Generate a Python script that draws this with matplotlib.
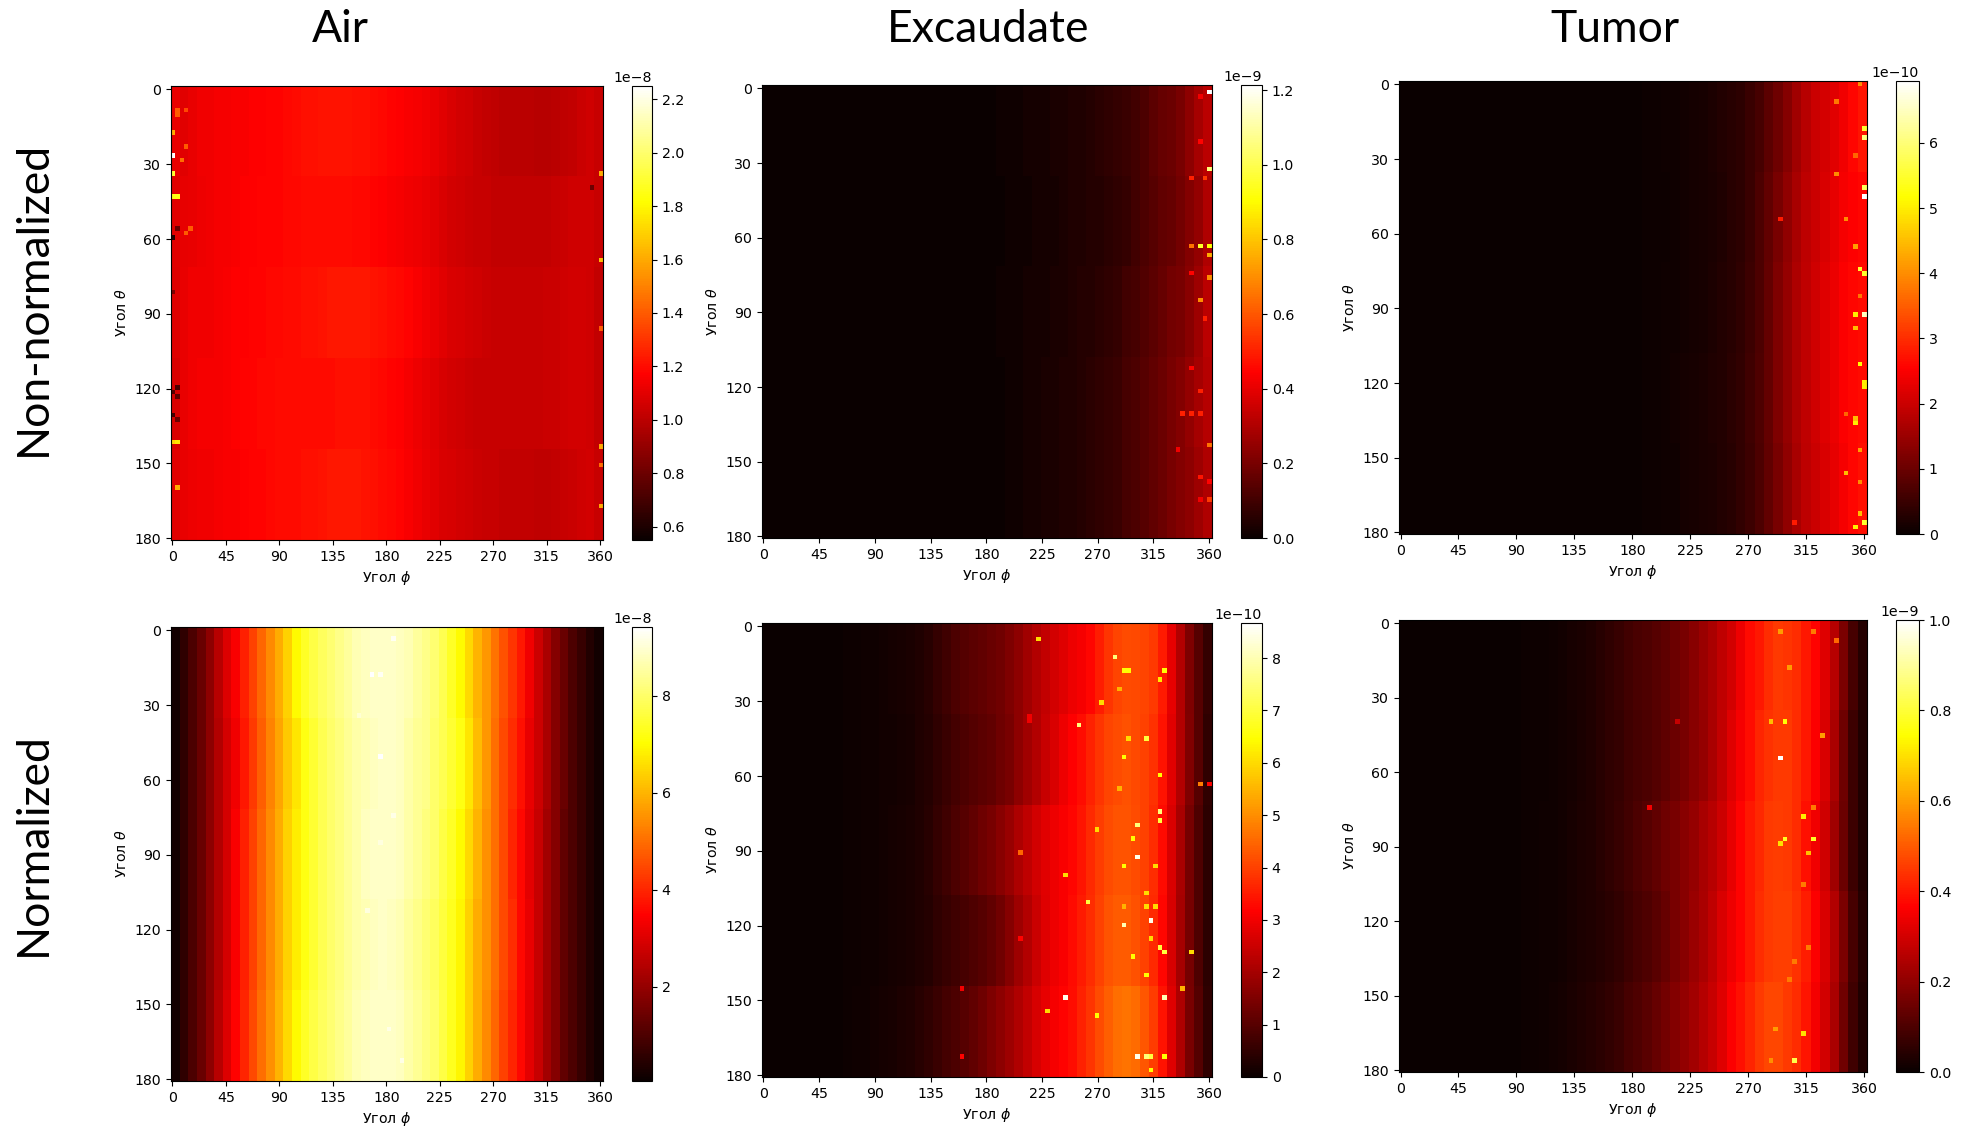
import numpy as np
import matplotlib
matplotlib.use("Agg")
import matplotlib.pyplot as plt

# block estimates: 5 theta bands (36 deg), 50 phi bins (7.2 deg)
# single bright cells are listed apart as (theta, phi, value)

air_raw = [
    [1.12, 1.10, 1.12, 1.14, 1.14, 1.15, 1.15, 1.16, 1.16, 1.17,
     1.17, 1.18, 1.18, 1.19, 1.20, 1.21, 1.21, 1.22, 1.22, 1.22,
     1.22, 1.21, 1.21, 1.20, 1.19, 1.18, 1.17, 1.16, 1.15, 1.14,
     1.12, 1.10, 1.08, 1.06, 1.05, 1.03, 1.02, 1.01, 1.00, 1.00,
     1.00, 1.00, 0.99, 0.99, 1.00, 1.01, 1.02, 1.04, 1.05, 1.03],
    [1.10, 1.11, 1.12, 1.13, 1.14, 1.15, 1.15, 1.16, 1.17, 1.17,
     1.18, 1.18, 1.18, 1.19, 1.19, 1.20, 1.20, 1.20, 1.20, 1.20,
     1.20, 1.19, 1.19, 1.18, 1.17, 1.16, 1.15, 1.14, 1.13, 1.12,
     1.10, 1.08, 1.06, 1.05, 1.04, 1.03, 1.03, 1.02, 1.02, 1.02,
     1.02, 1.02, 1.02, 1.02, 1.03, 1.04, 1.05, 1.05, 1.05, 1.03],
    [1.09, 1.12, 1.14, 1.14, 1.14, 1.15, 1.16, 1.17, 1.17, 1.18,
     1.18, 1.19, 1.19, 1.20, 1.20, 1.21, 1.21, 1.22, 1.23, 1.23,
     1.23, 1.23, 1.23, 1.22, 1.21, 1.20, 1.19, 1.18, 1.16, 1.14,
     1.12, 1.10, 1.08, 1.07, 1.06, 1.05, 1.04, 1.03, 1.03, 1.03,
     1.03, 1.03, 1.03, 1.04, 1.04, 1.05, 1.06, 1.06, 1.05, 1.02],
    [1.08, 1.12, 1.14, 1.15, 1.15, 1.15, 1.16, 1.17, 1.18, 1.18,
     1.19, 1.19, 1.20, 1.20, 1.20, 1.20, 1.20, 1.20, 1.20, 1.21,
     1.21, 1.21, 1.21, 1.20, 1.19, 1.18, 1.17, 1.15, 1.13, 1.11,
     1.09, 1.07, 1.06, 1.05, 1.04, 1.03, 1.03, 1.03, 1.03, 1.03,
     1.03, 1.03, 1.03, 1.04, 1.04, 1.05, 1.06, 1.06, 1.05, 1.02],
    [1.10, 1.12, 1.13, 1.14, 1.14, 1.15, 1.16, 1.16, 1.17, 1.18,
     1.18, 1.19, 1.20, 1.20, 1.20, 1.21, 1.21, 1.22, 1.23, 1.23,
     1.23, 1.23, 1.22, 1.21, 1.20, 1.19, 1.18, 1.16, 1.14, 1.12,
     1.10, 1.08, 1.07, 1.06, 1.05, 1.04, 1.03, 1.03, 1.02, 1.02,
     1.02, 1.02, 1.01, 1.01, 1.02, 1.03, 1.04, 1.05, 1.06, 1.03],
]
air_raw_hot = [(28, 0, 2.25), (35, 0, 1.9), (44.5, 0, 1.85), (44.5, 3.6, 1.85), (19, 0, 1.6),
               (142, 0, 1.7), (142, 3.6, 1.75), (159, 3.6, 1.6), (35, 360, 1.6), (70, 360, 1.65),
               (143, 360, 1.6), (166, 360, 1.6), (61, 0, 0.62), (130, 0, 0.7), (120, 3.6, 0.72),
               (12, 3.6, 1.4), (58, 11, 1.4), (96, 360, 1.4), (150, 360, 1.45), (40, 350, 0.8),
               (9.6, 5.5, 1.4), (9.6, 11, 1.35), (30, 9.7, 1.45), (24, 11, 1.4), (132, 4, 0.8),
               (121, 2, 0.75), (123, 5.5, 0.78), (56, 4, 0.8), (82, 0.6, 0.85), (57, 17, 1.4)]

exc_raw = [
    [0.00, 0.00, 0.00, 0.00, 0.00, 0.00, 0.00, 0.00, 0.00, 0.00,
     0.00, 0.00, 0.00, 0.00, 0.00, 0.00, 0.00, 0.00, 0.00, 0.00,
     0.00, 0.00, 0.00, 0.00, 0.00, 0.00, 0.01, 0.01, 0.01, 0.02,
     0.02, 0.02, 0.03, 0.03, 0.04, 0.04, 0.05, 0.06, 0.07, 0.08,
     0.09, 0.10, 0.12, 0.15, 0.17, 0.18, 0.20, 0.24, 0.28, 0.32],
    [0.00, 0.00, 0.00, 0.00, 0.00, 0.00, 0.00, 0.00, 0.00, 0.00,
     0.00, 0.00, 0.00, 0.00, 0.00, 0.00, 0.00, 0.00, 0.00, 0.00,
     0.00, 0.00, 0.00, 0.00, 0.00, 0.00, 0.00, 0.01, 0.01, 0.01,
     0.02, 0.02, 0.02, 0.03, 0.04, 0.04, 0.05, 0.05, 0.06, 0.07,
     0.08, 0.10, 0.12, 0.14, 0.16, 0.17, 0.19, 0.22, 0.25, 0.30],
    [0.00, 0.00, 0.00, 0.00, 0.00, 0.00, 0.00, 0.00, 0.00, 0.00,
     0.00, 0.00, 0.00, 0.00, 0.00, 0.00, 0.00, 0.00, 0.00, 0.00,
     0.00, 0.00, 0.00, 0.00, 0.00, 0.00, 0.01, 0.01, 0.01, 0.02,
     0.02, 0.02, 0.03, 0.03, 0.04, 0.05, 0.05, 0.06, 0.07, 0.08,
     0.10, 0.11, 0.13, 0.15, 0.17, 0.19, 0.20, 0.23, 0.27, 0.32],
    [0.00, 0.00, 0.00, 0.00, 0.00, 0.00, 0.00, 0.00, 0.00, 0.00,
     0.00, 0.00, 0.00, 0.00, 0.00, 0.00, 0.00, 0.00, 0.00, 0.00,
     0.00, 0.00, 0.00, 0.00, 0.00, 0.00, 0.00, 0.01, 0.01, 0.02,
     0.02, 0.03, 0.03, 0.04, 0.04, 0.05, 0.06, 0.07, 0.08, 0.09,
     0.11, 0.12, 0.14, 0.16, 0.18, 0.20, 0.22, 0.25, 0.28, 0.31],
    [0.00, 0.00, 0.00, 0.00, 0.00, 0.00, 0.00, 0.00, 0.00, 0.00,
     0.00, 0.00, 0.00, 0.00, 0.00, 0.00, 0.00, 0.00, 0.00, 0.00,
     0.00, 0.00, 0.00, 0.00, 0.00, 0.00, 0.00, 0.01, 0.01, 0.02,
     0.02, 0.03, 0.03, 0.04, 0.04, 0.05, 0.06, 0.07, 0.08, 0.09,
     0.11, 0.12, 0.14, 0.16, 0.18, 0.20, 0.22, 0.24, 0.27, 0.30],
]
exc_raw_hot = [(2, 358, 1.21), (33, 358, 1.05), (63, 350, 0.95), (63, 358, 0.9), (63, 345, 0.65),
               (67, 358, 0.75), (76, 358, 0.7), (85, 352, 0.7), (131, 338, 0.5), (131, 350, 0.5),
               (131, 345, 0.5), (143, 358, 0.65), (37, 342, 0.5), (37, 355, 0.55), (22, 350, 0.45),
               (122, 350, 0.5), (74, 342, 0.45), (158, 358, 0.45), (165, 358, 0.55), (93, 355, 0.5),
               (5, 350, 0.42), (145, 332, 0.42), (155, 352, 0.48), (112, 342, 0.45), (165, 352, 0.42)]

tum_raw = [
    [0.00, 0.00, 0.00, 0.00, 0.00, 0.00, 0.00, 0.00, 0.00, 0.00,
     0.00, 0.00, 0.00, 0.00, 0.00, 0.00, 0.00, 0.00, 0.00, 0.00,
     0.00, 0.00, 0.00, 0.00, 0.00, 0.02, 0.03, 0.04, 0.06, 0.08,
     0.10, 0.13, 0.16, 0.20, 0.25, 0.31, 0.38, 0.50, 0.65, 0.85,
     1.05, 1.30, 1.55, 1.80, 2.00, 2.10, 2.25, 2.40, 2.60, 2.75],
    [0.00, 0.00, 0.00, 0.00, 0.00, 0.00, 0.00, 0.00, 0.00, 0.00,
     0.00, 0.00, 0.00, 0.00, 0.00, 0.00, 0.00, 0.00, 0.00, 0.00,
     0.00, 0.00, 0.00, 0.00, 0.00, 0.01, 0.03, 0.04, 0.05, 0.07,
     0.10, 0.12, 0.15, 0.19, 0.24, 0.30, 0.38, 0.50, 0.68, 0.90,
     1.15, 1.40, 1.65, 1.85, 2.00, 2.15, 2.30, 2.45, 2.55, 2.60],
    [0.00, 0.00, 0.00, 0.00, 0.00, 0.00, 0.00, 0.00, 0.00, 0.00,
     0.00, 0.00, 0.00, 0.00, 0.00, 0.00, 0.00, 0.00, 0.00, 0.00,
     0.00, 0.00, 0.00, 0.00, 0.01, 0.02, 0.03, 0.04, 0.06, 0.08,
     0.10, 0.13, 0.16, 0.20, 0.25, 0.31, 0.40, 0.52, 0.70, 0.95,
     1.20, 1.45, 1.70, 1.90, 2.05, 2.20, 2.35, 2.50, 2.60, 2.65],
    [0.00, 0.00, 0.00, 0.00, 0.00, 0.00, 0.00, 0.00, 0.00, 0.00,
     0.00, 0.00, 0.00, 0.00, 0.00, 0.00, 0.00, 0.00, 0.00, 0.00,
     0.00, 0.00, 0.00, 0.00, 0.01, 0.02, 0.03, 0.05, 0.07, 0.09,
     0.12, 0.15, 0.18, 0.22, 0.27, 0.33, 0.42, 0.55, 0.72, 0.95,
     1.20, 1.45, 1.70, 1.90, 2.05, 2.20, 2.35, 2.50, 2.60, 2.65],
    [0.00, 0.00, 0.00, 0.00, 0.00, 0.00, 0.00, 0.00, 0.00, 0.00,
     0.00, 0.00, 0.00, 0.00, 0.00, 0.00, 0.00, 0.00, 0.00, 0.00,
     0.00, 0.00, 0.00, 0.00, 0.01, 0.02, 0.03, 0.05, 0.06, 0.08,
     0.11, 0.14, 0.17, 0.21, 0.26, 0.32, 0.41, 0.52, 0.70, 0.92,
     1.15, 1.40, 1.65, 1.85, 2.00, 2.15, 2.30, 2.45, 2.60, 2.70],
]
tum_raw_hot = [(23, 357, 6), (19, 358, 5.5), (43, 358, 5.8), (45, 358, 6.95), (74, 355, 5.5),
               (76, 358, 5.5), (92, 358, 6.5), (93.5, 352, 5), (98, 352, 4.5), (112, 355, 5.2),
               (119, 358, 5), (121, 358, 5), (134, 352, 4.5), (135.5, 352, 5), (155.5, 344, 4.5),
               (159, 355, 4), (176, 358, 5.5), (177.5, 352, 5), (172, 355, 4.5), (37, 338, 4),
               (55.5, 344, 4), (54, 294, 2.8), (8, 337, 3.8), (0, 355, 4), (176, 304, 2.8),
               (65, 352, 4.2), (147, 355, 4.2), (30, 352, 3.6), (85, 355, 3.8), (132, 344, 3.6)]

air_norm = [
    [0.2, 0.6, 1.0, 1.4, 1.9, 2.5, 3.0, 3.4, 3.9, 4.4,
     4.9, 5.4, 5.9, 6.4, 7.0, 7.4, 7.7, 7.9, 8.1, 8.3,
     8.5, 8.7, 8.8, 8.9, 8.9, 8.9, 8.8, 8.7, 8.5, 8.3,
     8.1, 7.8, 7.4, 7.0, 6.5, 6.0, 5.6, 5.1, 4.6, 4.2,
     3.8, 3.3, 2.8, 2.3, 1.8, 1.4, 1.0, 0.7, 0.4, 0.2],
    [0.2, 0.6, 1.0, 1.4, 1.9, 2.4, 2.9, 3.3, 3.8, 4.3,
     4.8, 5.3, 5.8, 6.3, 6.7, 7.2, 7.5, 7.8, 8.0, 8.2,
     8.4, 8.6, 8.7, 8.8, 8.9, 8.9, 8.8, 8.6, 8.4, 8.3,
     8.0, 7.8, 7.5, 7.2, 6.7, 6.1, 5.6, 5.0, 4.5, 4.1,
     3.7, 3.2, 2.8, 2.3, 1.8, 1.4, 1.0, 0.7, 0.4, 0.2],
    [0.2, 0.6, 1.0, 1.4, 1.9, 2.4, 2.9, 3.4, 3.9, 4.4,
     4.9, 5.4, 5.9, 6.4, 6.8, 7.2, 7.5, 7.8, 8.0, 8.2,
     8.4, 8.6, 8.8, 8.9, 8.9, 8.9, 8.8, 8.6, 8.4, 8.2,
     8.0, 7.7, 7.4, 7.0, 6.5, 6.0, 5.5, 5.0, 4.5, 4.0,
     3.6, 3.1, 2.7, 2.2, 1.8, 1.3, 1.0, 0.7, 0.4, 0.2],
    [0.2, 0.6, 1.0, 1.4, 1.9, 2.4, 2.9, 3.4, 3.9, 4.4,
     4.9, 5.4, 5.9, 6.4, 6.8, 7.2, 7.5, 7.8, 8.0, 8.2,
     8.4, 8.6, 8.7, 8.8, 8.9, 8.8, 8.7, 8.5, 8.3, 8.1,
     7.9, 7.6, 7.3, 6.9, 6.4, 5.9, 5.5, 5.0, 4.5, 4.1,
     3.6, 3.2, 2.7, 2.2, 1.8, 1.3, 1.0, 0.7, 0.4, 0.2],
    [0.2, 0.6, 1.0, 1.4, 1.9, 2.5, 3.0, 3.5, 4.0, 4.5,
     5.0, 5.5, 6.0, 6.5, 7.0, 7.4, 7.7, 7.9, 8.1, 8.3,
     8.5, 8.7, 8.8, 8.9, 8.9, 8.9, 8.8, 8.6, 8.4, 8.2,
     8.0, 7.7, 7.3, 6.9, 6.4, 5.9, 5.4, 4.9, 4.4, 4.0,
     3.6, 3.1, 2.7, 2.2, 1.8, 1.3, 1.0, 0.7, 0.4, 0.2],
]
air_norm_hot = [(19, 169, 9.4), (19, 173, 9.3), (52, 176, 9.4), (75, 184, 9.2), (85, 176, 9.1),
                (113, 162, 9.1), (5, 187, 9.3), (160, 180, 9.2), (172, 191, 9.2), (35, 155, 9.0)]

exc_norm = [
    [0.00, 0.00, 0.00, 0.00, 0.00, 0.00, 0.01, 0.02, 0.03, 0.04,
     0.05, 0.07, 0.09, 0.11, 0.14, 0.17, 0.22, 0.30, 0.40, 0.55,
     0.70, 0.85, 0.95, 1.05, 1.15, 1.25, 1.35, 1.50, 1.70, 1.95,
     2.20, 2.40, 2.60, 2.75, 2.95, 3.05, 3.25, 3.55, 3.85, 4.05,
     4.15, 4.10, 4.05, 3.90, 3.50, 2.85, 2.20, 1.50, 1.00, 0.55],
    [0.00, 0.00, 0.00, 0.00, 0.00, 0.00, 0.01, 0.02, 0.03, 0.04,
     0.05, 0.07, 0.09, 0.11, 0.13, 0.16, 0.20, 0.28, 0.37, 0.50,
     0.62, 0.75, 0.85, 0.95, 1.05, 1.15, 1.30, 1.45, 1.70, 1.95,
     2.20, 2.45, 2.70, 2.95, 3.15, 3.35, 3.60, 3.85, 4.05, 4.15,
     4.20, 4.10, 4.00, 3.80, 3.40, 2.80, 2.20, 1.55, 1.00, 0.50],
    [0.00, 0.00, 0.00, 0.00, 0.00, 0.00, 0.01, 0.02, 0.03, 0.04,
     0.06, 0.08, 0.10, 0.12, 0.15, 0.18, 0.22, 0.30, 0.40, 0.55,
     0.70, 0.85, 1.00, 1.15, 1.30, 1.45, 1.65, 1.85, 2.10, 2.35,
     2.60, 2.80, 2.95, 3.10, 3.25, 3.45, 3.70, 3.95, 4.15, 4.25,
     4.25, 4.15, 4.00, 3.75, 3.30, 2.70, 2.05, 1.40, 0.90, 0.45],
    [0.00, 0.00, 0.00, 0.00, 0.00, 0.00, 0.01, 0.02, 0.03, 0.04,
     0.06, 0.08, 0.10, 0.12, 0.15, 0.18, 0.22, 0.28, 0.37, 0.48,
     0.58, 0.68, 0.78, 0.90, 1.00, 1.15, 1.35, 1.60, 1.90, 2.20,
     2.50, 2.75, 2.95, 3.10, 3.30, 3.50, 3.75, 4.00, 4.25, 4.35,
     4.35, 4.20, 4.00, 3.70, 3.25, 2.65, 2.00, 1.40, 0.90, 0.45],
    [0.00, 0.00, 0.00, 0.00, 0.00, 0.00, 0.01, 0.02, 0.03, 0.05,
     0.07, 0.09, 0.12, 0.15, 0.20, 0.25, 0.30, 0.40, 0.50, 0.62,
     0.75, 0.88, 1.00, 1.15, 1.30, 1.50, 1.70, 1.90, 2.15, 2.40,
     2.65, 2.85, 3.05, 3.20, 3.35, 3.60, 3.85, 4.15, 4.40, 4.60,
     4.65, 4.55, 4.30, 3.95, 3.40, 2.75, 2.10, 1.45, 0.95, 0.50],
]
exc_norm_hot = [(14, 283, 7.5), (7, 222, 6), (40, 255, 7.5), (38, 215, 3), (32, 272, 6),
                (45, 306, 7), (45, 294, 6), (53, 290, 6.5), (60, 317, 6.5), (80, 302, 7.5),
                (74, 317, 7.5), (78, 320, 7), (81, 269, 6), (85, 298, 6.5), (92, 302, 8.5),
                (96, 291, 6.5), (91, 207, 4.5), (100, 244, 6), (111, 262, 7), (118, 310, 8.5),
                (120, 288, 8), (125, 313, 6), (129, 320, 7), (131, 323, 7), (131, 342, 6),
                (133, 298, 6.5), (140, 306, 6.5), (144, 160, 3), (144, 338, 5.5), (149, 244, 8.5),
                (149, 323, 8), (154, 229, 6), (156, 269, 6.5), (172.5, 302, 8.5), (172.5, 306, 7.5),
                (172.5, 310, 7.5), (172.5, 313, 7), (172.5, 323, 6.5), (172.5, 160, 3.2), (63, 350, 4.8),
                (63, 357, 3.2), (177, 310, 6.5), (18, 295, 6.5), (18, 323, 6.5), (18, 288, 6.5),
                (26.5, 285, 5.5), (23, 320, 6.2), (65, 287, 5.5), (96, 316, 6), (107, 306, 6),
                (113, 288, 5.5), (113, 306, 6), (113, 316, 6), (36, 215, 3), (125, 207, 3.2)]

tum_norm = [
    [0.000, 0.000, 0.000, 0.000, 0.000, 0.000, 0.000, 0.000, 0.001, 0.001,
     0.001, 0.002, 0.003, 0.004, 0.005, 0.007, 0.010, 0.014, 0.020, 0.027,
     0.035, 0.045, 0.055, 0.070, 0.085, 0.095, 0.105, 0.115, 0.125, 0.145,
     0.165, 0.190, 0.215, 0.240, 0.270, 0.300, 0.340, 0.380, 0.400, 0.430,
     0.450, 0.445, 0.430, 0.400, 0.370, 0.320, 0.260, 0.170, 0.090, 0.040],
    [0.000, 0.000, 0.000, 0.000, 0.000, 0.000, 0.000, 0.000, 0.001, 0.001,
     0.001, 0.002, 0.003, 0.004, 0.005, 0.006, 0.009, 0.013, 0.018, 0.025,
     0.035, 0.045, 0.055, 0.065, 0.080, 0.090, 0.100, 0.110, 0.125, 0.145,
     0.165, 0.190, 0.210, 0.240, 0.275, 0.320, 0.355, 0.385, 0.420, 0.440,
     0.450, 0.450, 0.430, 0.400, 0.360, 0.310, 0.240, 0.150, 0.075, 0.035],
    [0.000, 0.000, 0.000, 0.000, 0.000, 0.000, 0.000, 0.000, 0.001, 0.001,
     0.001, 0.002, 0.003, 0.004, 0.006, 0.008, 0.011, 0.015, 0.021, 0.028,
     0.035, 0.045, 0.055, 0.070, 0.085, 0.100, 0.115, 0.130, 0.150, 0.165,
     0.190, 0.210, 0.235, 0.260, 0.290, 0.330, 0.370, 0.400, 0.425, 0.450,
     0.455, 0.450, 0.430, 0.390, 0.345, 0.295, 0.225, 0.145, 0.075, 0.035],
    [0.000, 0.000, 0.000, 0.000, 0.000, 0.000, 0.000, 0.000, 0.001, 0.001,
     0.001, 0.002, 0.003, 0.004, 0.006, 0.008, 0.011, 0.015, 0.021, 0.028,
     0.035, 0.042, 0.050, 0.060, 0.075, 0.090, 0.105, 0.120, 0.140, 0.165,
     0.190, 0.215, 0.240, 0.270, 0.310, 0.340, 0.370, 0.400, 0.430, 0.450,
     0.460, 0.460, 0.440, 0.410, 0.360, 0.310, 0.250, 0.170, 0.090, 0.040],
    [0.000, 0.000, 0.000, 0.000, 0.000, 0.000, 0.000, 0.000, 0.001, 0.001,
     0.001, 0.002, 0.003, 0.004, 0.006, 0.009, 0.012, 0.017, 0.024, 0.032,
     0.040, 0.050, 0.060, 0.072, 0.090, 0.105, 0.120, 0.140, 0.160, 0.180,
     0.205, 0.230, 0.255, 0.285, 0.320, 0.360, 0.390, 0.420, 0.450, 0.470,
     0.470, 0.450, 0.430, 0.395, 0.350, 0.300, 0.240, 0.155, 0.080, 0.035],
]
tum_norm_hot = [(54, 294, 1.0), (176, 304, 0.82), (40, 297.5, 0.75), (40, 287, 0.65), (45, 326.5, 0.6),
                (78, 312, 0.72), (75.5, 319, 0.55), (87, 297.5, 0.78), (88.5, 294, 0.7), (87, 319, 0.78),
                (92, 316, 0.65), (74, 192, 0.35), (40, 214, 0.28), (165, 312, 0.7), (163, 290, 0.6),
                (19.5, 300.6, 0.6), (5, 294, 0.6), (5, 319, 0.55), (8.7, 337, 0.52), (176, 287, 0.58),
                (136, 304, 0.55), (130, 314, 0.55), (143, 301, 0.55), (105, 312, 0.55)]

col_titles = ["Air", "Excaudate", "Tumor"]
row_titles = ["Non-normalized", "Normalized"]
phi_ticks = [0, 45, 90, 135, 180, 225, 270, 315, 360]
theta_ticks = [0, 30, 60, 90, 120, 150, 180]

W, H = 1961, 1130
FS = 10.2


def px_axes(fig, x0, y0, x1, y1):
    # pixel box of the reference, y counted from the top
    return fig.add_axes([x0 / W, 1 - y1 / H, (x1 - x0) / W, (y1 - y0) / H])


def make_grid(blocks, hot):
    grid = np.repeat(np.repeat(np.array(blocks, dtype=float), 20, axis=0), 2, axis=1)
    for theta, phi, val in hot:
        grid[min(int(theta / 1.8), 99), min(int(phi / 3.6), 99)] = val
    return grid


def draw_panel(fig, blocks, hot, unit, vmin, vmax, box, cbox):
    ax = px_axes(fig, *box)
    cax = px_axes(fig, *cbox)
    grid = make_grid(blocks, hot) * unit
    im = ax.imshow(grid, cmap="hot", vmin=vmin, vmax=vmax, aspect="auto",
                   interpolation="nearest", extent=(-1.2, 362.3, 180.7, -1.4))
    ax.set_xticks(phi_ticks)
    ax.set_yticks(theta_ticks)
    ax.tick_params(labelsize=FS)
    ax.set_xlabel(r"Угол $\phi$", fontsize=FS)
    ax.set_ylabel(r"Угол $\theta$", fontsize=FS)
    cb = fig.colorbar(im, cax=cax)
    cb.ax.tick_params(labelsize=FS)
    cb.ax.yaxis.get_offset_text().set_fontsize(FS)


fig = plt.figure(figsize=(W / 100, H / 100), dpi=100)

draw_panel(fig, air_raw, air_raw_hot, 1e-8, 0.55e-8, 2.25e-8, (171, 86, 603, 540), (632, 86, 652, 540))
draw_panel(fig, exc_raw, exc_raw_hot, 1e-9, 0, 1.214e-9, (762, 85, 1212, 538), (1241, 85, 1262, 538))
draw_panel(fig, tum_raw, tum_raw_hot, 1e-10, 0, 6.95e-10, (1399, 81, 1867, 534), (1896, 81, 1919, 534))
draw_panel(fig, air_norm, air_norm_hot, 1e-8, 0.06e-8, 9.42e-8, (171, 627, 603, 1081), (632, 627, 652, 1081))
draw_panel(fig, exc_norm, exc_norm_hot, 1e-10, 0, 8.67e-10, (762, 623, 1212, 1077), (1241, 623, 1262, 1077))
draw_panel(fig, tum_norm, tum_norm_hot, 1e-9, 0, 1.0e-9, (1399, 620, 1867, 1072), (1896, 620, 1919, 1072))

for name, x in zip(col_titles, [340, 988, 1615]):
    fig.text(x / W, 1 - 30 / H, name, family="Lato", fontsize=32, ha="center", va="center")
for name, y in zip(row_titles, [298, 844]):
    fig.text(33 / W, 1 - y / H, name, family="Lato", fontsize=32, rotation=90, ha="center", va="center")

fig.savefig("out.png", dpi=100)
